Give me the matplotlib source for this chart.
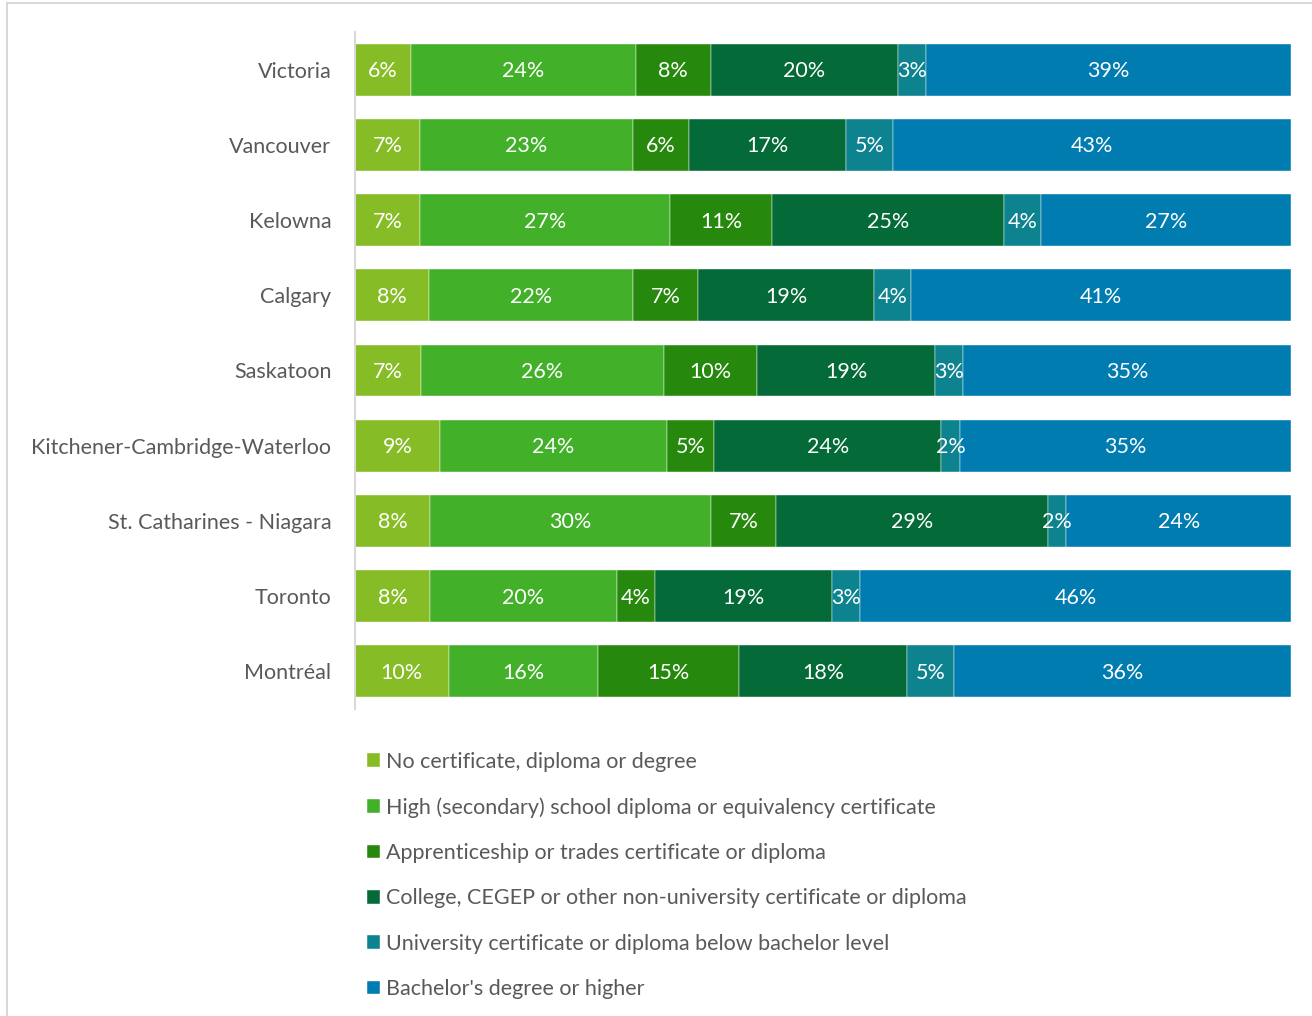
import numpy as np
import matplotlib.pyplot as plt
from matplotlib.patches import Rectangle

plt.rcParams['font.family'] = ['Lato', 'DejaVu Sans']

cities = ["Victoria", "Vancouver", "Kelowna", "Calgary", "Saskatoon",
          "Kitchener-Cambridge-Waterloo", "St. Catharines - Niagara",
          "Toronto", "Montréal"]

categories = ["No certificate, diploma or degree",
              "High (secondary) school diploma or equivalency certificate",
              "Apprenticeship or trades certificate or diploma",
              "College, CEGEP or other non-university certificate or diploma",
              "University certificate or diploma below bachelor level",
              "Bachelor's degree or higher"]

# percentage shares per city, one list per category
no_cert    = [6, 7, 7, 8, 7, 9, 8, 8, 10]
high_sch   = [24, 23, 27, 22, 26, 24, 30, 20, 16]
trades     = [8, 6, 11, 7, 10, 5, 7, 4, 15]
college    = [20, 17, 25, 19, 19, 24, 29, 19, 18]
univ_below = [3, 5, 4, 4, 3, 2, 2, 3, 5]
bachelor   = [39, 43, 27, 41, 35, 35, 24, 46, 36]

colors = ["#86BC25", "#43B02A", "#26890D", "#046A38", "#0D8390", "#007CB0"]

data = np.array([no_cert, high_sch, trades, college, univ_below, bachelor], dtype=float)
totals = data.sum(axis=0)
shares = data / totals * 100

fig = plt.figure(figsize=(13.12, 10.16), dpi=100)
# light frame around the chart area
fig.patches.append(Rectangle((7 / 1312, -0.01), 1.02, 1 - 3 / 1016 + 0.01,
                             transform=fig.transFigure, fill=False,
                             edgecolor="#D9D9D9", linewidth=1.5))

ax = fig.add_axes([355 / 1312, 1 - 709 / 1016, 936 / 1312, 677 / 1016])

y = np.arange(len(cities))
left = np.zeros(len(cities))
bars = []
for i, cat in enumerate(categories):
    b = ax.barh(y, shares[i], left=left, height=0.69, color=colors[i],
                label=cat, edgecolor="white", linewidth=0.3)
    bars.append(b)
    for j in range(len(cities)):
        ax.text(left[j] + shares[i][j] / 2, y[j] + 0.02, f"{int(data[i][j])}%",
                ha="center", va="center", color="white", fontsize=15.5)
    left += shares[i]

ax.set_xlim(0, 100)
ax.set_ylim(len(cities) - 0.5, -0.5)
ax.set_yticks(y)
ax.set_yticklabels(cities, fontsize=15.5, color="#595959")
ax.tick_params(axis="y", length=0, pad=17)
ax.set_xticks([])
for side in ["top", "right", "bottom"]:
    ax.spines[side].set_visible(False)
ax.spines["left"].set_color("#D9D9D9")
ax.spines["left"].set_linewidth(1.5)

fig.legend(handles=bars, labels=categories, loc="upper left",
           bbox_to_anchor=(358 / 1312, 1 - 743 / 1016), frameon=False,
           fontsize=15.5, labelcolor="#595959", handlelength=0.6,
           handleheight=0.6, handletextpad=0.3, labelspacing=1.18,
           borderaxespad=0)

fig.savefig("out.png", dpi=100)
